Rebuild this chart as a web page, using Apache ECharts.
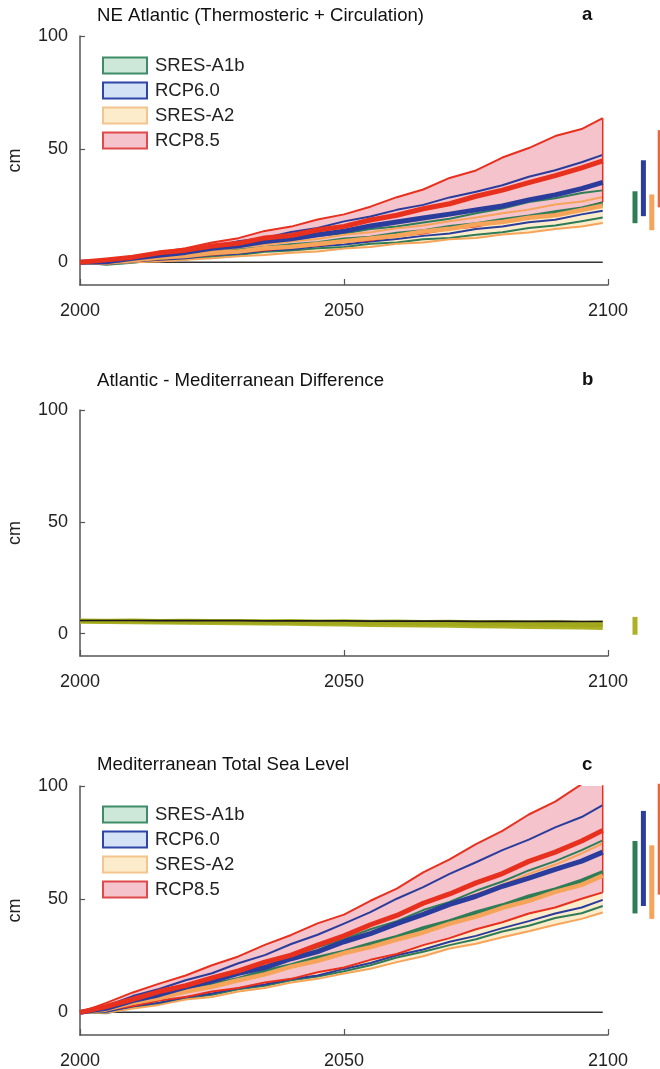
<!DOCTYPE html>
<html>
<head>
<meta charset="utf-8">
<script src="https://cdn.jsdelivr.net/npm/echarts@6/dist/echarts.min.js"></script>
<style>
html,body{margin:0;padding:0;background:#fff;}
#chart{width:660px;height:1069px;}
</style>
</head>
<body>
<div id="chart"></div>
<script>
// ---------- data ----------
const years = [2000,2005,2010,2015,2020,2025,2030,2035,2040,2045,2050,2055,2060,2065,2070,2075,2080,2085,2090,2095,2099];
const xTicks = [2000, 2050, 2100];
const yTicks = [0, 50, 100];
const scenarios = ['SRES-A1b', 'RCP6.0', 'SRES-A2', 'RCP8.5'];
const zeroYears = [2000, 2099];
const zeroVals = [0, 0];

// Panel a: NE Atlantic (Thermosteric + Circulation)
const aGreenHi  = [0,0.6,1.4,3.2,4.3,5.7,6.8,8.7,9.8,11.7,12.8,14.7,15.8,17.6,19.3,21.7,23.8,26.7,28.3,30.6,31.8];
const aGreenMid = [0,0.1,1.1,1.9,3.1,3.9,5.2,6.3,7.6,8.4,10.1,10.9,12.6,13.8,15.6,16.8,18.7,20.3,22.2,23.8,26];
const aGreenLo  = [0,-1.1,-0.2,1.1,1.3,2.6,3.3,4.7,5.2,6.2,6.8,8.2,8.8,10.2,10.8,12.2,13.3,15.2,16.3,18.2,19.8];
const aBlueHi   = [0,0.4,2.1,3.2,5.3,6.8,9.3,10.8,13.4,15.2,18.1,20.3,23.2,25.4,28.7,31.2,34.1,37.8,40.7,44.2,47.5];
const aBlueMid  = [0,0.3,1.8,3.1,4.4,6.2,7.3,9.2,10.4,12.2,13.8,16.1,17.8,19.6,21.3,23.2,24.9,27.6,29.8,32.6,35.3];
const aBlueLo   = [0,-0.7,0.4,1.1,1.8,3.2,3.8,5.2,5.8,7.1,7.9,9.2,10.3,11.7,12.8,14.7,15.8,17.7,18.8,21.2,22.8];
const aOrangeHi = [0,0.5,1.6,2.4,4.1,4.9,6.7,7.8,9.2,10.3,12.2,13.3,15.1,16.3,18.2,19.8,21.7,23.3,25.6,26.9,28.9];
const aOrangeMid= [0,-0.1,0.9,2.1,2.8,4.1,4.8,6.2,6.9,8.1,9.3,10.6,11.8,13.6,14.8,16.7,17.8,19.7,20.8,23.1,25];
const aOrangeLo = [0,-0.6,0.1,0.4,1.2,1.8,2.7,3.3,4.2,4.8,6.1,6.8,8.2,8.8,10.2,10.8,12.3,13.2,14.7,15.8,17.4];
const aRedHi    = [0,1.2,2.4,4.5,6.2,8.8,10.7,13.9,15.8,18.9,21.2,24.6,28.8,32.2,37.3,40.6,46.3,50.5,55.8,58.9,63.7];
const aRedMid   = [0,1.1,2.3,4.2,5.4,7.2,8.4,10.8,11.9,14.3,15.9,18.7,20.8,23.7,25.9,29.2,31.9,35.2,38.3,41.7,44.8];
const aRedLo    = [0,-0.6,0.7,1.4,2.7,3.3,4.6,5.4,6.7,7.4,9.1,9.8,11.6,12.8,14.7,15.8,18.2,19.8,22.1,23.8,26.6];
// 2100 ranges (side bars): green, blue, orange, red
const aRangeLo = [17.3, 20.4, 14.2, 24.3];
const aRangeHi = [31.4, 45.1, 30.0, 58.4];

// Panel b: Atlantic - Mediterranean Difference
const bOliveHi  = [6.8,6.7,6.8,6.6,6.7,6.5,6.6,6.4,6.5,6.3,6.4,6.2,6.3,6.1,6.2,6.0,6.1,5.9,6.0,5.8,5.9];
const bOliveMid = [5.6,5.5,5.5,5.4,5.3,5.2,5.2,5.0,5.0,4.8,4.8,4.6,4.6,4.4,4.4,4.2,4.2,4.0,4.0,3.8,3.8];
const bOliveLo  = [4.4,4.3,4.2,4.1,4.0,3.9,3.8,3.6,3.5,3.3,3.2,3.0,2.9,2.7,2.6,2.4,2.3,2.1,2.0,1.8,1.6];
const bBlack    = [5.9,5.9,5.9,5.8,5.8,5.8,5.8,5.7,5.7,5.7,5.7,5.6,5.6,5.6,5.6,5.5,5.5,5.5,5.5,5.4,5.4];
const bRangeLo = [-0.5];
const bRangeHi = [7.5];

// Panel c: Mediterranean Total Sea Level
const cGreenHi  = [0,2.7,5.3,8.7,11.3,14.7,17.8,21.7,24.8,28.7,32.3,36.7,40.3,45.2,48.8,53.7,57.8,62.7,66.8,71.7,76];
const cGreenMid = [0,2.1,4.3,7.2,9.3,12.2,14.8,18.2,20.8,24.2,26.8,30.2,33.3,37.2,40.3,44.2,47.3,51.2,54.3,58.2,62];
const cGreenLo  = [0,-0.4,2.2,3.8,6.2,7.8,10.2,11.8,14.2,15.8,18.2,20.8,24.2,26.8,29.7,32.3,35.7,38.3,41.7,43.8,47];
const cBlueHi   = [0,2.8,7.2,10.3,14.2,17.3,21.7,25.3,30.2,34.3,39.2,44.3,50.2,55.3,61.2,66.3,71.7,76.3,81.7,86.3,91.5];
const cBlueMid  = [0,1.8,5.2,7.8,11.2,13.8,17.2,19.8,23.7,26.8,31.2,34.8,39.2,43.3,47.7,51.3,55.7,59.3,63.2,66.8,70.8];
const cBlueLo   = [0,0.3,2.7,4.3,6.7,8.3,10.7,12.3,14.7,16.3,19.2,21.8,25.2,27.8,31.2,33.8,37.2,40.3,43.7,46.3,49.7];
const cOrangeHi = [0,2.2,4.8,8.2,10.8,14.2,16.8,20.7,23.8,27.7,30.8,35.2,38.8,43.2,47.3,52.2,56.3,61.2,65.3,70.2,74.6];
const cOrangeMid= [0,1.3,4.2,6.3,9.2,11.3,14.2,16.8,20.2,22.8,26.2,28.8,32.2,35.3,39.2,42.3,46.2,49.3,53.2,56.3,60.4];
const cOrangeLo = [0,-0.2,1.7,3.3,5.7,6.8,9.2,10.8,13.2,14.8,17.2,19.3,22.2,24.8,28.2,30.3,33.2,35.8,38.7,41.3,44.1];
const cRedHi    = [0,4.2,8.8,12.7,16.3,20.8,24.7,29.8,34.2,39.3,43.2,49.3,54.7,61.8,67.6,74.3,80.2,87.4,93.1,100.8,105.5];
const cRedMid   = [0,2.6,5.8,9.2,11.8,15.2,18.3,22.2,25.3,29.7,33.8,38.7,42.8,48.2,52.3,57.2,61.3,66.7,70.8,75.7,80.4];
const cRedLo    = [0,1.2,2.8,5.2,6.8,9.2,10.8,13.2,14.8,17.7,19.8,23.2,25.8,29.7,32.8,36.7,39.8,43.7,46.3,50.2,53];
const cRangeLo = [43.7, 47.0, 41.3, 52.0];
const cRangeHi = [75.7, 89.0, 73.8, 101.0];

// ---------- styles ----------
const FONT = 'Liberation Sans, Arial, Helvetica, sans-serif';
const lineCol = ['#2f7d57', '#2a3c9c', '#f6a45a', '#e8301e'];
const bandCol = ['#cde8d8', '#d3e3f5', '#fdeccb', '#f4c3cb'];
const legBorder = ['#3f8c68', '#2f45a8', '#f4c48e', '#e04a4a'];
const barCol = ['#2f7d57', '#2a3c9c', '#f6a45a', '#e8663e'];
const olive = '#adb125';

const pair = (xs, arr) => xs.map((x, i) => [x, arr[i]]);

const series = [];
function zero(g) {
  series.push({type:'line', xAxisIndex:g, yAxisIndex:g, data:pair(zeroYears, zeroVals), symbol:'none', silent:true,
    lineStyle:{color:'#333', width:1.5}});
}
function band(g, name, lo, hi, fill) {
  series.push({type:'custom', name:name, xAxisIndex:g, yAxisIndex:g, silent:true, clip:true,
    data:[[years[0], lo[0]]], itemStyle:{color:fill},
    renderItem: function(params, api) {
      const pts = [];
      for (let i = 0; i < years.length; i++) pts.push(api.coord([years[i], hi[i]]));
      for (let i = years.length - 1; i >= 0; i--) pts.push(api.coord([years[i], lo[i]]));
      return {type:'polygon', shape:{points:pts}, style:{fill:fill}};
    }});
}
function line(g, arr, color, width) {
  series.push({type:'line', xAxisIndex:g, yAxisIndex:g, data:pair(years, arr), symbol:'none', silent:true,
    lineStyle:{color:color, width:width, join:'round'}});
}
function edge(g, lo, hi, color) {
  const n = years.length - 1;
  series.push({type:'line', xAxisIndex:g, yAxisIndex:g, data:[[years[n], lo[n]], [years[n], hi[n]]], symbol:'none', silent:true,
    lineStyle:{color:color, width:1.5}});
}
function ranges(g, los, his, cols) {
  series.push({type:'custom', xAxisIndex:g, yAxisIndex:g, silent:true,
    data: los.map((lo, i) => ({value:[i + 0.5, lo, his[i]], itemStyle:{color:cols[i]}})),
    renderItem: function(params, api) {
      const p1 = api.coord([api.value(0), api.value(2)]);
      const p2 = api.coord([api.value(0), api.value(1)]);
      return {type:'rect', shape:{x:p1[0] - 2.5, y:p1[1], width:5, height:p2[1] - p1[1]},
        style:{fill: api.visual('color')}};
    }});
}

function scenarioPanel(g, d) {
  zero(g);
  band(g, scenarios[0], d.gLo, d.gHi, bandCol[0]);
  band(g, scenarios[1], d.bLo, d.bHi, bandCol[1]);
  band(g, scenarios[2], d.oLo, d.oHi, bandCol[2]);
  band(g, scenarios[3], d.rLo, d.rHi, bandCol[3]);
  line(g, d.gLo, lineCol[0], 2); line(g, d.gHi, lineCol[0], 2);
  line(g, d.oLo, lineCol[2], 2); line(g, d.oHi, lineCol[2], 2);
  line(g, d.bLo, lineCol[1], 2); line(g, d.bHi, lineCol[1], 2);
  line(g, d.rLo, lineCol[3], 2); line(g, d.rHi, lineCol[3], 2);
  edge(g, d.rLo, d.rHi, lineCol[3]);
  line(g, d.gMid, lineCol[0], 4);
  line(g, d.oMid, lineCol[2], 4.5);
  line(g, d.bMid, lineCol[1], 5);
  line(g, d.rMid, lineCol[3], 5);
}

scenarioPanel(0, {gLo:aGreenLo, gHi:aGreenHi, gMid:aGreenMid, bLo:aBlueLo, bHi:aBlueHi, bMid:aBlueMid,
  oLo:aOrangeLo, oHi:aOrangeHi, oMid:aOrangeMid, rLo:aRedLo, rHi:aRedHi, rMid:aRedMid});
scenarioPanel(2, {gLo:cGreenLo, gHi:cGreenHi, gMid:cGreenMid, bLo:cBlueLo, bHi:cBlueHi, bMid:cBlueMid,
  oLo:cOrangeLo, oHi:cOrangeHi, oMid:cOrangeMid, rLo:cRedLo, rHi:cRedHi, rMid:cRedMid});

// panel b
band(1, 'olive', bOliveLo, bOliveHi, olive);
line(1, bOliveMid, '#a2a81c', 4);
line(1, bBlack, '#1a1a1a', 1.6);

ranges(3, aRangeLo, aRangeHi, barCol);
ranges(4, bRangeLo, bRangeHi, [olive]);
ranges(5, cRangeLo, cRangeHi, barCol);

// ---------- axes ----------
const gridTops = [36, 410, 786];
const gridHeights = [249, 246, 249];
const grid = [];
const xAxis = [];
const yAxis = [];
for (let i = 0; i < 3; i++) {
  grid.push({left:80, top:gridTops[i], width:528, height:gridHeights[i], containLabel:false, outerBoundsMode:'none'});
  xAxis.push({type:'value', gridIndex:i, min:2000, max:2100, interval:50,
    axisLine:{show:true, onZero:false, lineStyle:{color:'#555', width:1.5}},
    axisTick:{show:true, inside:true, length:6, lineStyle:{color:'#555', width:1.2}},
    axisLabel:{fontSize:18, color:'#222', fontFamily:FONT, margin:17, formatter: v => String(v),
      customValues: xTicks},
    splitLine:{show:false}});
  yAxis.push({type:'value', gridIndex:i, min:-10, max:100,
    name:'cm', nameLocation:'middle', nameGap:56, nameRotate:90,
    nameTextStyle:{fontSize:18, color:'#222', fontFamily:FONT},
    axisLine:{show:true, onZero:false, lineStyle:{color:'#555', width:1.5}},
    axisTick:{show:true, inside:true, length:5, customValues: yTicks, lineStyle:{color:'#555', width:1.2}},
    axisLabel:{fontSize:18, color:'#222', fontFamily:FONT, margin:12, customValues: yTicks},
    splitLine:{show:false}});
}
for (let i = 0; i < 3; i++) {
  grid.push({left:630.8, top:gridTops[i], width:33.6, height:gridHeights[i], containLabel:false, outerBoundsMode:'none'});
  xAxis.push({type:'value', gridIndex:3 + i, min:0, max:4, show:false});
  yAxis.push({type:'value', gridIndex:3 + i, min:-10, max:100, show:false});
}

const legendData = scenarios.map((s, i) => ({name:s, icon:'rect',
  itemStyle:{color:bandCol[i], borderColor:legBorder[i], borderWidth:2}}));
const legendBase = {orient:'vertical', left:102, itemWidth:44, itemHeight:16, itemGap:6, selectedMode:false,
  padding:0, textStyle:{fontSize:18.5, color:'#222', fontFamily:FONT, padding:[0,0,0,3]}, data:legendData};

const titleStyle = {fontSize:18.6, fontWeight:'normal', color:'#111', fontFamily:FONT};
const letterStyle = {fontSize:18.6, fontWeight:'bold', color:'#111', fontFamily:FONT};

const option = {
  animation:false,
  backgroundColor:'#fff',
  title:[
    {text:'NE Atlantic (Thermosteric + Circulation)', left:97, top:6, padding:0, textStyle:titleStyle},
    {text:'a', left:582, top:5, padding:0, textStyle:letterStyle},
    {text:'Atlantic - Mediterranean Difference', left:97, top:371, padding:0, textStyle:titleStyle},
    {text:'b', left:582, top:370, padding:0, textStyle:letterStyle},
    {text:'Mediterranean Total Sea Level', left:97, top:755, padding:0, textStyle:titleStyle},
    {text:'c', left:582, top:755, padding:0, textStyle:letterStyle}
  ],
  legend:[
    Object.assign({}, legendBase, {top:56}),
    Object.assign({}, legendBase, {top:805})
  ],
  grid: grid,
  xAxis: xAxis,
  yAxis: yAxis,
  series: series
};

const chart = echarts.init(document.getElementById('chart'), null, {renderer:'canvas'});
chart.setOption(option);
</script>
</body>
</html>
